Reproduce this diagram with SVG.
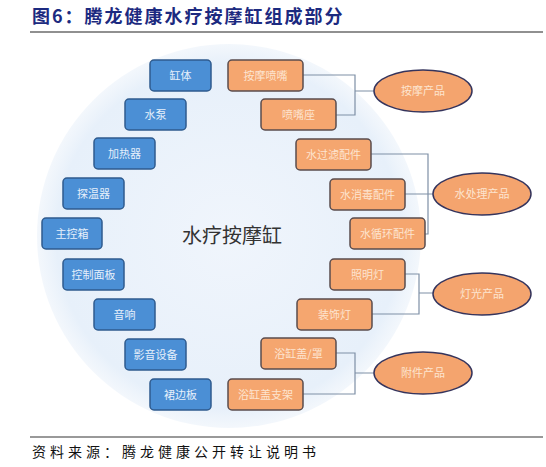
<svg xmlns="http://www.w3.org/2000/svg" width="546" height="467" viewBox="0 0 546 467">
<style>
.t{font-family:"Noto Sans CJK SC","Noto Sans",sans-serif}
.title{font-size:18px;font-weight:bold;fill:#1c2a80;letter-spacing:2px}
.foot{font-size:14px;fill:#111;letter-spacing:4px}
.center{font-size:20px;fill:#333}
.b rect{fill:#4b8fd5;stroke:#2f5b8e;stroke-width:1.5}
.o rect{fill:#f5a66f;stroke:#5a4c4e;stroke-width:1.5}
.e ellipse{fill:#f4a46e;stroke:#35345c;stroke-width:1.5}
.lbl{font-size:11px;text-anchor:middle}
.b .lbl{fill:#e6f0fb}
.o .lbl,.e .lbl{fill:#fde4d0}
.conn path{fill:none;stroke:#7e8fa6;stroke-width:1.2}
</style>
<defs>
<radialGradient id="cg" cx="0.5" cy="0.5" r="0.5">
<stop offset="0" stop-color="#f0f5fc"/>
<stop offset="0.9" stop-color="#e7f0fa"/>
<stop offset="1" stop-color="#ebf2fa" stop-opacity="0.6"/>
</radialGradient>
</defs>
<rect width="546" height="467" fill="#ffffff"/>
<text class="t title" x="32" y="23">图6：腾龙健康水疗按摩缸组成部分</text>
<line x1="30" y1="32" x2="543" y2="32" stroke="#222" stroke-width="1.2"/>
<circle cx="229" cy="236" r="192" fill="url(#cg)"/>
<text class="t center" x="232" y="243" text-anchor="middle">水疗按摩缸</text>
<g class="conn" id="connectors">
<path d="M303,75 H355 V115 H336 M355,91 H374"/>
<path d="M371,154 H428 V234 H424 M404,194 H433"/>
<path d="M404,274 H419 V314 H371 M419,293 H433"/>
<path d="M336,353 H355 V394 H303 M355,373 H374"/>
</g>
<g class="b t">
<g id="n-gangti"><rect x="150" y="60" width="61" height="31" rx="4"/><text class="lbl" x="180.5" y="79.5">缸体</text></g>
<g id="n-shuibeng"><rect x="125" y="99" width="61" height="31" rx="4"/><text class="lbl" x="155.5" y="118.5">水泵</text></g>
<g id="n-jiareqi"><rect x="94" y="138" width="61" height="31" rx="4"/><text class="lbl" x="124.5" y="157.5">加热器</text></g>
<g id="n-tanwenqi"><rect x="63" y="178" width="61" height="31" rx="4"/><text class="lbl" x="93.5" y="197.5">探温器</text></g>
<g id="n-zhukongxiang"><rect x="42" y="218" width="60" height="31" rx="4"/><text class="lbl" x="72" y="237.5">主控箱</text></g>
<g id="n-kongzhimianban"><rect x="63" y="259" width="61" height="31" rx="4"/><text class="lbl" x="93.5" y="278.5">控制面板</text></g>
<g id="n-yinxiang"><rect x="94" y="299" width="61" height="31" rx="4"/><text class="lbl" x="124.5" y="318.5">音响</text></g>
<g id="n-yingyin"><rect x="125" y="339" width="61" height="31" rx="4"/><text class="lbl" x="155.5" y="358.5">影音设备</text></g>
<g id="n-qunbianban"><rect x="150" y="379" width="61" height="31" rx="4"/><text class="lbl" x="180.5" y="398.5">裙边板</text></g>
</g>
<g class="o t">
<g id="n-penzui"><rect x="228" y="60" width="75" height="31" rx="4"/><text class="lbl" x="265.5" y="79.5">按摩喷嘴</text></g>
<g id="n-penzuizuo"><rect x="261" y="99" width="75" height="31" rx="4"/><text class="lbl" x="298.5" y="118.5">喷嘴座</text></g>
<g id="n-guolv"><rect x="296" y="139" width="75" height="31" rx="4"/><text class="lbl" x="333.5" y="158.5">水过滤配件</text></g>
<g id="n-xiaodu"><rect x="330" y="179" width="75" height="31" rx="4"/><text class="lbl" x="367.5" y="198.5">水消毒配件</text></g>
<g id="n-xunhuan"><rect x="350" y="218" width="75" height="31" rx="4"/><text class="lbl" x="387.5" y="237.5">水循环配件</text></g>
<g id="n-zhaoming"><rect x="330" y="259" width="75" height="31" rx="4"/><text class="lbl" x="367.5" y="278.5">照明灯</text></g>
<g id="n-zhuangshi"><rect x="297" y="299" width="75" height="31" rx="4"/><text class="lbl" x="334.5" y="318.5">装饰灯</text></g>
<g id="n-gai"><rect x="261" y="338" width="75" height="31" rx="4"/><text class="lbl" x="298.5" y="357.5">浴缸盖/罩</text></g>
<g id="n-zhijia"><rect x="228" y="379" width="75" height="31" rx="4"/><text class="lbl" x="265.5" y="398.5">浴缸盖支架</text></g>
</g>
<g class="e t">
<g id="n-anmo"><ellipse cx="423" cy="91" rx="49" ry="21"/><text class="lbl" x="423" y="95">按摩产品</text></g>
<g id="n-shuichuli"><ellipse cx="482" cy="194" rx="49" ry="21"/><text class="lbl" x="482" y="198">水处理产品</text></g>
<g id="n-dengguang"><ellipse cx="482" cy="294" rx="49" ry="21"/><text class="lbl" x="482" y="298">灯光产品</text></g>
<g id="n-fujian"><ellipse cx="423" cy="373" rx="49" ry="21"/><text class="lbl" x="423" y="377">附件产品</text></g>
</g>
<line x1="30" y1="437" x2="543" y2="437" stroke="#777" stroke-width="1.5"/>
<text class="t foot" x="32" y="457">资料来源：腾龙健康公开转让说明书</text>
</svg>
